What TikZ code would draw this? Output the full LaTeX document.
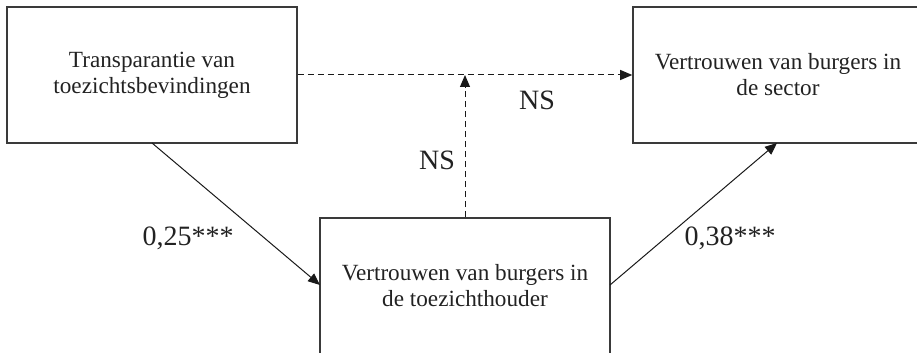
\documentclass[tikz,border=0pt]{standalone}
\usepackage{fontspec}
\setmainfont{Liberation Serif}
\usetikzlibrary{arrows.meta}
\definecolor{boxline}{HTML}{3A3A3A}
\definecolor{txt}{HTML}{222222}
\tikzset{
  box/.style={draw=boxline, line width=0.8pt, minimum width=145pt, minimum height=68pt,
    align=center, font=\fontsize{11.6}{13}\selectfont, text=txt, inner sep=0pt},
  link/.style={line width=0.5pt, draw=black!90, -{Triangle[length=6pt,width=5pt]}},
  nslink/.style={link, dash pattern=on 3pt off 2pt},
  coef/.style={font=\fontsize{14}{15}\selectfont, text=txt, inner sep=0pt}
}
\begin{document}
\begin{tikzpicture}[x=0.5pt, y=-0.5pt]
  \useasboundingbox (0,0) rectangle (917,353);
  \clip (0,0) rectangle (917,353);
  % the three constructs
  \node[box] (trans) at (152,75) {Transparantie van\\toezichtsbevindingen};
  \node[box] (sector) at (778,75) {Vertrouwen van burgers in\\de sector};
  \node[box] (toez) at (465,286) {Vertrouwen van burgers in\\de toezichthouder};
  % anchor points on the box edges
  \coordinate (tb) at (152,143);
  \coordinate (sb) at (777,143);
  \coordinate (zl) at (320,285);
  \coordinate (zr) at (610,285);
  \coordinate (mid) at (465,75);
  % paths
  \draw[link] (tb) -- (zl);
  \draw[link] (zr) -- (sb);
  \draw[nslink] (trans.east) -- (sector.west);
  \draw[nslink] (toez.north) -- (mid);
  % coefficients
  \node[coef] (c1) at (188,238) {0,25***};
  \node[coef] (c2) at (730,238) {0,38***};
  \node[coef] (ns1) at (537,100) {NS};
  \node[coef] (ns2) at (437,160) {NS};
\end{tikzpicture}
\end{document}
